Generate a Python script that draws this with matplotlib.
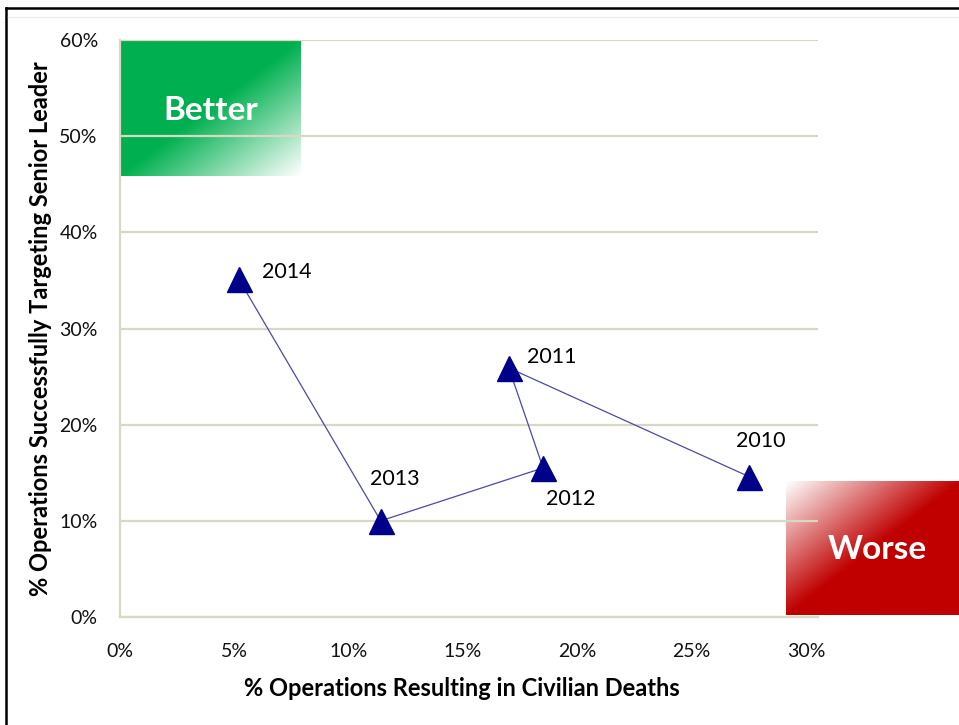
import numpy as np
import matplotlib
matplotlib.use("Agg")
import matplotlib.pyplot as plt
from matplotlib.lines import Line2D

# Data
years = ["2010", "2011", "2012", "2013", "2014"]
civilian_deaths = [27.5, 17.0, 18.5, 11.4, 5.2]     # % operations resulting in civilian deaths
leader_success = [14.6, 25.9, 15.5, 10.0, 35.1]     # % operations successfully targeting senior leader
label_dx = [0.5, 1.9, 1.2, 0.6, 2.1]
label_dy = [3.7, 1.1, -3.2, 4.3, 0.8]

x_ticks = [0, 5, 10, 15, 20, 25, 30]
y_ticks = [0, 10, 20, 30, 40, 50, 60]

plt.rcParams["font.family"] = ["Lato", "DejaVu Sans"]

fig = plt.figure(figsize=(9.59, 7.25), dpi=100)
ax = fig.add_axes([120 / 959, 108 / 725, 698 / 959, 577 / 725])

grid_col = "#d9d9c3"

# ---------------- Gradient boxes ----------------
def gradient_box(rgb, fade_to_bottom_right):
    u = np.linspace(0, 1, 200)[None, :]
    v = np.linspace(0, 1, 150)[:, None]
    t = (u + v) / 2
    if fade_to_bottom_right:
        a = np.clip((1 - t) / 0.5, 0, 1)
    else:
        a = np.clip(t / 0.5, 0, 1)
    img = np.zeros((150, 200, 4))
    img[..., 0] = rgb[0]
    img[..., 1] = rgb[1]
    img[..., 2] = rgb[2]
    img[..., 3] = a
    return img

green = (0 / 255, 176 / 255, 80 / 255)
red = (192 / 255, 0, 0)

ax.imshow(gradient_box(green, True), extent=[0, 7.9, 45.9, 60], aspect="auto",
          zorder=0.2, clip_on=False, interpolation="bilinear")
ax.imshow(gradient_box(red, False), extent=[29.1, 36.7, 0.2, 14.1], aspect="auto",
          zorder=0.2, clip_on=False, interpolation="bilinear")

ax.text(3.95, 52.7, "Better", color="white", fontsize=24, fontweight="bold",
        ha="center", va="center", zorder=3)
ax.text(33.1, 7.0, "Worse", color="white", fontsize=24, fontweight="bold",
        ha="center", va="center", zorder=3, clip_on=False)

# ---------------- Line + markers ----------------
ax.plot(civilian_deaths, leader_success, color="#4a4aa8", lw=0.9, zorder=2)
ax.plot(civilian_deaths, leader_success, linestyle="none", marker="^",
        markersize=18, color="#00008b", zorder=3)

for x, y, lab, dx, dy in zip(civilian_deaths, leader_success, years, label_dx, label_dy):
    ax.text(x + dx, y + dy, lab, fontsize=15.5, ha="center", va="center", color="black", zorder=4)

# ---------------- Axes styling ----------------
ax.set_xlim(0, 30.52)
ax.set_ylim(0, 60)
ax.set_xticks(x_ticks)
ax.set_yticks(y_ticks)
ax.set_xticklabels([f"{v}%" for v in x_ticks])
ax.set_yticklabels([f"{v}%" for v in y_ticks])
ax.tick_params(axis="both", length=0, labelsize=14, colors="#111111")
ax.tick_params(axis="x", pad=19)
ax.tick_params(axis="y", pad=16)

ax.set_axisbelow(True)
ax.yaxis.grid(True, color=grid_col, lw=1.6, zorder=0.5)
for s in ["top", "right"]:
    ax.spines[s].set_visible(False)
ax.spines["left"].set_color(grid_col)
ax.spines["left"].set_linewidth(1.6)
ax.spines["bottom"].set_color(grid_col)
ax.spines["bottom"].set_linewidth(1.6)
ax.spines["left"].set_zorder(0.5)
ax.spines["bottom"].set_zorder(0.5)

ax.set_xlabel("% Operations Resulting in Civilian Deaths", fontsize=17,
              fontweight="bold", labelpad=9)
ax.xaxis.set_label_coords(0.49, -0.104)
ax.set_ylabel("% Operations Successfully Targeting Senior Leader", fontsize=17,
              fontweight="bold", labelpad=5)

# Outer black frame (top and left edges visible)
fig.add_artist(Line2D([6 / 959, 1], [1 - 8 / 725, 1 - 8 / 725], color="black", lw=1.8,
                      transform=fig.transFigure))
fig.add_artist(Line2D([6 / 959, 6 / 959], [0, 1 - 8 / 725], color="black", lw=1.8,
                      transform=fig.transFigure))
fig.add_artist(Line2D([8 / 959, 1], [1 - 17 / 725, 1 - 17 / 725], color="#eeeeee", lw=1,
                      transform=fig.transFigure))

plt.savefig("out.png", dpi=100)
plt.close()
